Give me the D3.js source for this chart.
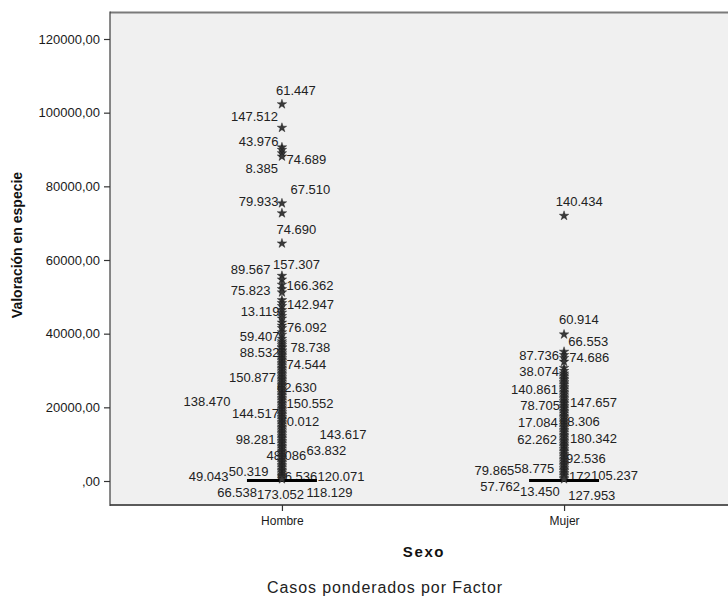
<!DOCTYPE html>
<html>
<head>
<meta charset="utf-8">
<script src="https://cdn.jsdelivr.net/npm/d3@7"></script>
<style>
  html, body { margin: 0; padding: 0; background: #ffffff; }
  svg { display: block; }
  text { font-family: "Liberation Sans", Arial, sans-serif; }
</style>
</head>
<body>
<svg id="chart" width="728" height="596"></svg>
<script>
// ---------------- DATA ----------------
const categories = ["Hombre", "Mujer"];
const yTicks = [0, 20000, 40000, 60000, 80000, 100000, 120000];

// box statistics (collapsed at zero)
const boxWhiskerLow = [0, 0];
const boxQ1 = [0, 0];
const boxMedian = [0, 0];
const boxQ3 = [0, 0];
const boxWhiskerHigh = [0, 0];

// outliers (extreme values, drawn as stars)
const hombreOutliers = [
  102300, 95900, 90600, 89900, 89000, 88100, 75400, 72700, 64500,
  55700, 54700, 53300, 52100, 51200,
  49100, 48300, 47500, 46400, 45700, 44800, 44100, 43000, 42200, 41500, 40400, 39700, 38600, 37900, 37400,
  36900, 36400, 36100, 35500, 35200, 34700, 34300, 33900, 33400, 33000, 32600, 32100, 31700, 31300, 30800,
  30400, 30000, 29500, 29100, 28700, 28200, 27800, 27400, 27000, 26500, 26100, 25700, 25200, 24800, 24400,
  23900, 23500, 23100, 22600, 22200, 21800, 21300, 20900, 20500, 20000, 19600, 19200, 18700, 18300, 17900,
  17400, 17000, 16600, 16100, 15700, 15300, 14800, 14400, 14000, 13500, 13100, 12700, 12200, 11800, 11400,
  10900, 10500, 10100, 9600, 9200, 8800, 8300, 7900, 7500, 7000, 6600, 6200, 5700, 5300, 4900,
  4400, 4000, 3600, 3100, 2700, 2300, 1800, 1400, 1000, 500
];
const mujerOutliers = [
  72000, 39800, 35100, 34200, 33400, 32400, 30700, 29900,
  29200, 28700, 28300, 27800, 27400, 26900, 26500, 26100, 25600, 25200, 24800, 24300, 23900, 23500,
  23000, 22600, 22200, 21700, 21300, 20900, 20400, 20000, 19600, 19100, 18700, 18300, 17800, 17400,
  17000, 16500, 16100, 15700, 15200, 14800, 14400, 13900, 13500, 13100, 12600, 12200, 11800, 11300,
  10900, 10500, 10000, 9600, 9200, 8700, 8300, 7900, 7400, 7000, 6600, 6100, 5700, 5300, 4800,
  4400, 4000, 3500, 3100, 2700, 2200, 1800, 1400, 900, 500
];

// case labels of outliers: case id and the value where the label sits
const hombreLabelCases = ["61.447","147.512","43.976","74.689","8.385","67.510","79.933","74.690",
  "157.307","89.567","166.362","75.823","142.947","13.119","76.092","59.407","78.738","88.532",
  "74.544","150.877","62.630","138.470","150.552","144.517","70.012","143.617","98.281","63.832",
  "48.086","50.319","49.043","66.536","120.071","66.538","173.052","118.129"];
const hombreLabelValues = [106150, 99100, 92310, 87340, 84790, 79200, 75830, 68420,
  58910, 57560, 53020, 51860, 47970, 45970, 41620, 39370, 36190, 34830,
  31770, 28050, 25520, 21720, 21100, 18380, 16100, 12680, 11400, 8420,
  6980, 2520, 1170, 1170, 1170, -3070, -3530, -3070];

const mujerLabelCases = ["140.434","60.914","66.553","87.736","74.686","38.074","140.861","147.657",
  "78.705","68.306","17.084","180.342","62.262","92.536","58.775","79.865","172","105.237",
  "57.762","13.450","127.953"];
const mujerLabelValues = [75830, 43900, 38010, 34210, 33480, 29870, 24980, 21370,
  20630, 16100, 15940, 11590, 11400, 6160, 3450, 2990, 1280, 1550,
  -1550, -2900, -3800];

// ---------------- LAYOUT ----------------
const W = 728, H = 596;
const plot = { left: 110, right: 736, top: 12.5, bottom: 505 };
const svg = d3.select("#chart");
svg.append("rect").attr("width", W).attr("height", H).attr("fill", "#ffffff");

const x = d3.scalePoint().domain(categories).range([plot.left, plot.right]).padding(0.6095);
const y = d3.scaleLinear().domain([0, 120000]).range([481, 39]);

// label placement (anchor and pixel offset from the category centre)
const hombreLabelLayout = [
  ["start",-6],["end",-4],["end",-3.5],["start",4.5],["end",-4],["start",8.5],["end",-3.5],["start",-5.5],
  ["start",-9],["end",-11.5],["start",4.5],["end",-11.5],["start",5],["end",-2.5],["start",5],["end",-2.5],
  ["start",8.5],["end",-2.5],["start",4.5],["end",-6],["start",-5],["end",-51.5],["start",4.5],["end",-3],
  ["start",-2.5],["start",37.5],["end",-6.5],["start",24.5],["start",-15.5],["end",-13.5],["end",-53.5],
  ["start",-4.5],["start",35.5],["end",-25],["start",-25],["start",24.5]
];
const mujerLabelLayout = [
  ["start",-8.3],["start",-5],["start",4.3],["end",-5],["start",5.3],["end",-5],["end",-6],["start",6],
  ["end",-4],["start",-4],["end",-6.3],["start",6],["end",-7],["start",2],["start",-49.7],["end",-49.7],
  ["start",5],["start",27],["end",-44],["start",-44],["start",4.3]
];

// plot background
svg.append("rect")
  .attr("x", plot.left).attr("y", plot.top)
  .attr("width", plot.right - plot.left).attr("height", plot.bottom - plot.top)
  .attr("fill", "#f0f0f0");

// frame lines
svg.append("line").attr("x1", plot.left).attr("x2", plot.right).attr("y1", plot.top).attr("y2", plot.top)
  .attr("stroke", "#7a7a7a").attr("stroke-width", 2);
svg.append("line").attr("x1", plot.left).attr("x2", plot.right).attr("y1", plot.bottom).attr("y2", plot.bottom)
  .attr("stroke", "#5a5a5a").attr("stroke-width", 2);
svg.append("line").attr("x1", plot.left).attr("x2", plot.left).attr("y1", plot.top - 1).attr("y2", plot.bottom + 1)
  .attr("stroke", "#3c3c3c").attr("stroke-width", 1.2);

// y axis
const yAxis = d3.axisLeft(y).tickValues(yTicks).tickSize(6).tickPadding(4)
  .tickFormat(d => d === 0 ? ",00" : d + ",00");
const gy = svg.append("g").attr("transform", `translate(${plot.left},0)`).call(yAxis);
gy.select(".domain").remove();
gy.selectAll(".tick line").attr("stroke", "#333").attr("stroke-width", 1.2);
gy.selectAll(".tick text").attr("fill", "#1a1a1a").style("font-size", "13px")
  .style("font-family", "'Liberation Sans', Arial, sans-serif");

// x axis
const xAxis = d3.axisBottom(x).tickSize(6).tickPadding(5);
const gx = svg.append("g").attr("transform", `translate(0,${plot.bottom})`).call(xAxis);
gx.select(".domain").remove();
gx.selectAll(".tick line").attr("stroke", "#333").attr("stroke-width", 1.2);
gx.selectAll(".tick text").attr("fill", "#1a1a1a").style("font-size", "12px")
  .style("font-family", "'Liberation Sans', Arial, sans-serif");

// axis titles
svg.append("text")
  .attr("transform", "translate(22,245) rotate(-90)")
  .attr("text-anchor", "middle")
  .style("font-size", "14px").style("font-weight", "bold").attr("fill", "#111")
  .text("Valoración en especie");
svg.append("text")
  .attr("x", 424).attr("y", 557)
  .attr("text-anchor", "middle")
  .style("font-size", "15px").style("font-weight", "bold").style("letter-spacing", "1.6px")
  .attr("fill", "#111")
  .text("Sexo");
svg.append("text")
  .attr("x", 385).attr("y", 593)
  .attr("text-anchor", "middle")
  .style("font-size", "16px").style("letter-spacing", "0.9px")
  .attr("fill", "#222")
  .text("Casos ponderados por Factor");

// outlier labels (drawn first, stars drawn on top)
function drawLabels(cat, cases, values, layout) {
  const cx = x(cat);
  svg.append("g").selectAll("text").data(cases).join("text")
    .attr("x", (d, i) => cx + layout[i][1])
    .attr("y", (d, i) => y(values[i]))
    .attr("dy", "0.35em")
    .attr("text-anchor", (d, i) => layout[i][0])
    .style("font-size", "13px")
    .attr("fill", "#222")
    .text(d => d);
}
drawLabels("Hombre", hombreLabelCases, hombreLabelValues, hombreLabelLayout);
drawLabels("Mujer", mujerLabelCases, mujerLabelValues, mujerLabelLayout);

// box plots
const boxW = x.step() * 0.248;
categories.forEach((c, i) => {
  const cx = x(c);
  const g = svg.append("g");
  g.append("line").attr("x1", cx).attr("x2", cx).attr("y1", y(boxWhiskerLow[i])).attr("y2", y(boxWhiskerHigh[i]))
    .attr("stroke", "#000").attr("stroke-width", 1);
  g.append("rect").attr("x", cx - boxW / 2).attr("width", boxW)
    .attr("y", y(boxQ3[i])).attr("height", Math.max(0, y(boxQ1[i]) - y(boxQ3[i])))
    .attr("fill", "none").attr("stroke", "#000").attr("stroke-width", 1);
  g.append("line").attr("x1", cx - boxW / 2).attr("x2", cx + boxW / 2)
    .attr("y1", y(boxMedian[i]) - 0.5).attr("y2", y(boxMedian[i]) - 0.5)
    .attr("stroke", "#000").attr("stroke-width", 3);
});

// outlier stars
const star = d3.symbol().type(d3.symbolStar).size(28);
function drawStars(cat, values) {
  const cx = x(cat);
  svg.append("g").selectAll("path").data(values).join("path")
    .attr("d", star)
    .attr("transform", d => `translate(${cx},${y(d)})`)
    .attr("fill", "#3a3a3a")
    .attr("stroke", "#111")
    .attr("stroke-width", 0.4);
}
drawStars("Hombre", hombreOutliers);
drawStars("Mujer", mujerOutliers);
</script>
</body>
</html>
